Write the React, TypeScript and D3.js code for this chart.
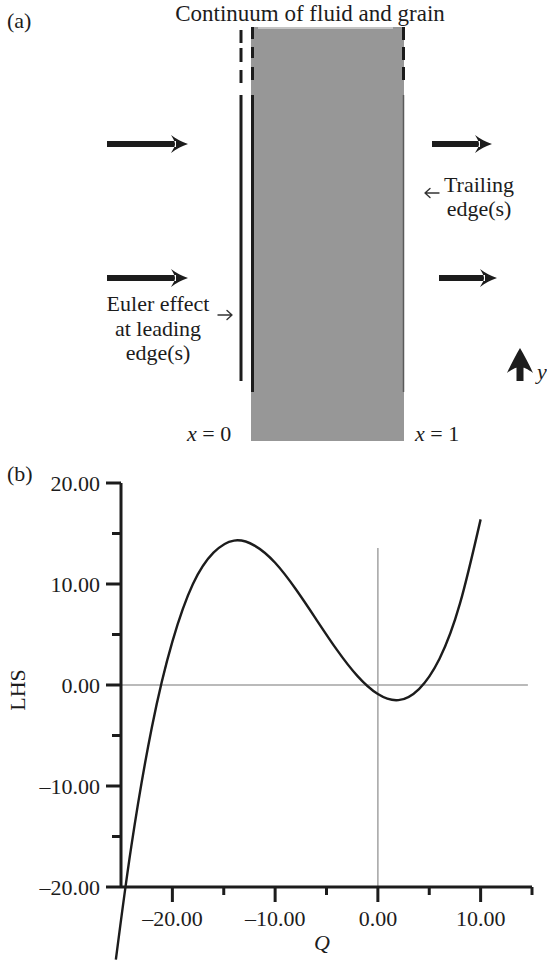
import React from "react";
import * as d3 from "d3";

// ---- data for panel (b) ----
const Q_VALUES = [-25.5, -24, -22, -20, -18, -16, -14, -12, -10, -8, -6, -4, -2, 0, 2, 4, 6, 8, 10];
const LHS_VALUES = [-27.2, -16.0, -4.2, 4.3, 10.0, 13.1, 14.3, 13.8, 12.1, 9.5, 6.5, 3.5, 0.9, -0.9, -1.5, -0.4, 2.6, 8.1, 16.4];
const X_DOMAIN = [-25, 15];
const Y_DOMAIN = [-20, 20];
const X_MAJOR_TICKS = [-20, -10, 0, 10];
const X_MINOR_TICKS = [-15, -5, 5, 15];
const Y_MAJOR_TICKS = [-20, -10, 0, 10, 20];
const Y_MINOR_TICKS = [-15, -5, 5, 15];

// ---- text for panel (a) ----
const TITLE_A = "Continuum of fluid and grain";
const LEADING_LINES = ["Euler effect", "at leading", "edge(s)"];
const TRAILING_LINES = ["Trailing", "edge(s)"];

const FONT = "'Liberation Serif', 'Times New Roman', serif";
const INK = "#1c1c1c";

function fmt(v: number) {
  return d3.format(".2f")(v).replace("-", "\u2013").replace("\u2212", "\u2013");
}

function rightArrow(x1: number, x2: number, yy: number) {
  const shaft = `M${x1},${yy - 3} L${x2 - 12},${yy - 3} L${x2 - 12},${yy + 3} L${x1},${yy + 3} Z`;
  const head =
    `M${x2},${yy} C${x2 - 6},${yy - 2} ${x2 - 12},${yy - 5} ${x2 - 17},${yy - 9} ` +
    `C${x2 - 14},${yy - 4} ${x2 - 13},${yy - 2} ${x2 - 13},${yy} ` +
    `C${x2 - 13},${yy + 2} ${x2 - 14},${yy + 4} ${x2 - 17},${yy + 9} ` +
    `C${x2 - 12},${yy + 5} ${x2 - 6},${yy + 2} ${x2},${yy} Z`;
  return shaft + " " + head;
}

function upArrow(xx: number, tipY: number, bottomY: number) {
  const shaft = `M${xx - 3.5},${tipY + 14} L${xx + 3.5},${tipY + 14} L${xx + 3.5},${bottomY} L${xx - 3.5},${bottomY} Z`;
  const head =
    `M${xx},${tipY} C${xx + 4},${tipY + 7} ${xx + 9},${tipY + 16} ${xx + 13},${tipY + 25} ` +
    `C${xx + 8},${tipY + 21} ${xx + 3},${tipY + 19} ${xx},${tipY + 19} ` +
    `C${xx - 3},${tipY + 19} ${xx - 8},${tipY + 21} ${xx - 13},${tipY + 25} ` +
    `C${xx - 9},${tipY + 16} ${xx - 4},${tipY + 7} ${xx},${tipY} Z`;
  return shaft + " " + head;
}

function DashedEdge({ x, dashes, solid, solidColor, solidWidth }: any) {
  return (
    <g>
      {dashes.map((d: number[], i: number) => (
        <line key={i} x1={x} x2={x} y1={d[0]} y2={d[1]} stroke={INK} strokeWidth={3} />
      ))}
      <line x1={x} x2={x} y1={solid[0]} y2={solid[1]} stroke={solidColor} strokeWidth={solidWidth} />
    </g>
  );
}

export default function App() {
  const x = d3.scaleLinear().domain(X_DOMAIN).range([121, 532]);
  const y = d3.scaleLinear().domain(Y_DOMAIN).range([887, 483]);
  const pts: [number, number][] = Q_VALUES.map((q, i) => [q, LHS_VALUES[i]]);
  const line = d3
    .line<[number, number]>()
    .x((d) => x(d[0]))
    .y((d) => y(d[1]))
    .curve(d3.curveNatural);

  const x0 = x(X_DOMAIN[0]);
  const x1 = x(X_DOMAIN[1]);
  const yb = y(Y_DOMAIN[0]);
  const yt = y(Y_DOMAIN[1]);

  return (
    <div style={{ position: "absolute", left: 0, top: 0 }}>
      <svg width={547} height={964} style={{ display: "block", background: "#fff" }} fontFamily={FONT}>
        {/* ---------- panel (a) ---------- */}
        <text x={7} y={28} fontSize={22} fill={INK}>(a)</text>
        <text x={310} y={21} fontSize={23} fill={INK} textAnchor="middle">{TITLE_A}</text>

        <rect x={251} y={27} width={153} height={414} fill="#979797" />
        <rect x={258} y={27} width={135} height={2} fill="#c4c4c4" />

        <DashedEdge x={241} dashes={[[30, 43], [48, 62], [70, 83]]} solid={[95, 381]} solidColor={INK} solidWidth={3} />
        <DashedEdge x={252.5} dashes={[[27, 39], [47, 58], [67, 80]]} solid={[95, 392]} solidColor={INK} solidWidth={3} />
        <DashedEdge x={403.5} dashes={[[27, 40], [47, 60], [67, 80]]} solid={[95, 392]} solidColor="#5a5a5a" solidWidth={1.5} />

        <path d={rightArrow(107, 188, 144)} fill={INK} />
        <path d={rightArrow(107, 188, 278)} fill={INK} />
        <path d={rightArrow(432, 492, 144)} fill={INK} />
        <path d={rightArrow(439, 497, 278)} fill={INK} />
        <path d={upArrow(520, 348, 381)} fill={INK} />

        {/* small annotation arrows */}
        <g stroke="#333" strokeWidth={1.4} fill="none" strokeLinecap="round" strokeLinejoin="round">
          <path d="M218,315 L232,315 M227,310.5 L232,315 L227,319.5" />
          <path d="M439,193 L425,193 M430,188.5 L425,193 L430,197.5" />
        </g>

        {LEADING_LINES.map((t, i) => (
          <text key={t} x={158} y={311 + i * 24.5} fontSize={22} fill={INK} textAnchor="middle">{t}</text>
        ))}
        {TRAILING_LINES.map((t, i) => (
          <text key={t} x={479} y={192 + i * 24} fontSize={22} fill={INK} textAnchor="middle">{t}</text>
        ))}

        <text x={187} y={441} fontSize={22} fill={INK}>
          <tspan fontStyle="italic">x</tspan> = 0
        </text>
        <text x={415} y={441} fontSize={22} fill={INK}>
          <tspan fontStyle="italic">x</tspan> = 1
        </text>
        <text x={537} y={379} fontSize={22} fill={INK} fontStyle="italic">y</text>

        {/* ---------- panel (b) ---------- */}
        <text x={7} y={481} fontSize={22} fill={INK}>(b)</text>

        {/* reference lines */}
        <line x1={x0} x2={x(14.6)} y1={y(0)} y2={y(0)} stroke="#a3a3a3" strokeWidth={1.5} />
        <line x1={x(0)} x2={x(0)} y1={548} y2={yb} stroke="#a3a3a3" strokeWidth={1.5} />

        {/* curve */}
        <path d={line(pts) || ""} fill="none" stroke={INK} strokeWidth={2.4} />

        {/* axes */}
        <line x1={x0} x2={x0} y1={yt} y2={yb} stroke={INK} strokeWidth={3} />
        <line x1={x0} x2={x1} y1={yb} y2={yb} stroke={INK} strokeWidth={3} />

        {Y_MAJOR_TICKS.map((v) => (
          <g key={"ym" + v}>
            <line x1={x0 - 15} x2={x0} y1={y(v)} y2={y(v)} stroke={INK} strokeWidth={3} />
            <text x={100} y={y(v) + 8} fontSize={22} fill={INK} textAnchor="end">{fmt(v)}</text>
          </g>
        ))}
        {Y_MINOR_TICKS.map((v) => (
          <line key={"yn" + v} x1={x0 - 9} x2={x0} y1={y(v)} y2={y(v)} stroke={INK} strokeWidth={3} />
        ))}
        {X_MAJOR_TICKS.map((v) => (
          <g key={"xm" + v}>
            <line x1={x(v)} x2={x(v)} y1={yb} y2={yb + 15} stroke={INK} strokeWidth={3} />
            <text x={x(v)} y={926} fontSize={22} fill={INK} textAnchor="middle">{fmt(v)}</text>
          </g>
        ))}
        {X_MINOR_TICKS.map((v) => (
          <line key={"xn" + v} x1={x(v)} x2={x(v)} y1={yb} y2={yb + 8} stroke={INK} strokeWidth={3} />
        ))}

        <text transform={`translate(25,690) rotate(-90)`} fontSize={22} fill={INK} textAnchor="middle">LHS</text>
        <text x={322} y={950} fontSize={22} fill={INK} textAnchor="middle" fontStyle="italic">Q</text>
      </svg>
    </div>
  );
}
